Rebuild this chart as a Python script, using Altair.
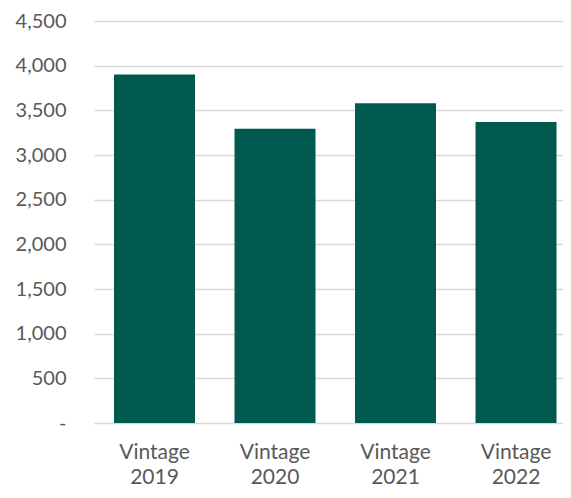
import altair as alt
import pandas as pd

categories = ["Vintage 2019", "Vintage 2020", "Vintage 2021", "Vintage 2022"]
values = [3900, 3295, 3580, 3370]
y_ticks = [0, 500, 1000, 1500, 2000, 2500, 3000, 3500, 4000, 4500]

df = pd.DataFrame({"cat": categories, "val": values})

text_color = "#595959"
font = "Lato"

chart = alt.Chart(df).mark_bar(color="#00594E").encode(
    x=alt.X(
        "cat:N",
        sort=categories,
        title=None,
        scale=alt.Scale(paddingInner=0.328, paddingOuter=0.11, align=0.755),
        axis=alt.Axis(
            labelAngle=0,
            labelExpr="split(datum.label, ' ')",
            labelLineHeight=25,
            labelPadding=18,
            domain=False,
            ticks=False,
            tickSize=0,
            grid=False,
            labelFont=font,
            labelFontSize=21,
            labelColor=text_color,
        ),
    ),
    y=alt.Y(
        "val:Q",
        title=None,
        scale=alt.Scale(domain=[0, 4500], nice=False),
        axis=alt.Axis(
            values=y_ticks,
            labelExpr="datum.value == 0 ? '-\u00a0\u00a0' : format(datum.value, ',')",
            gridColor="#d9d9d9",
            gridWidth=1.5,
            domain=False,
            ticks=False,
            tickSize=0,
            labelPadding=28,
            labelFont=font,
            labelFontSize=20,
            labelColor=text_color,
        ),
    ),
).properties(
    width=469,
    height=402,
    padding={"left": 86, "top": 13, "right": 0, "bottom": 67},
    autosize=alt.AutoSizeParams(type="none"),
).configure_view(stroke=None)

chart.save("out.html", embed_options={"renderer": "svg", "actions": False})
